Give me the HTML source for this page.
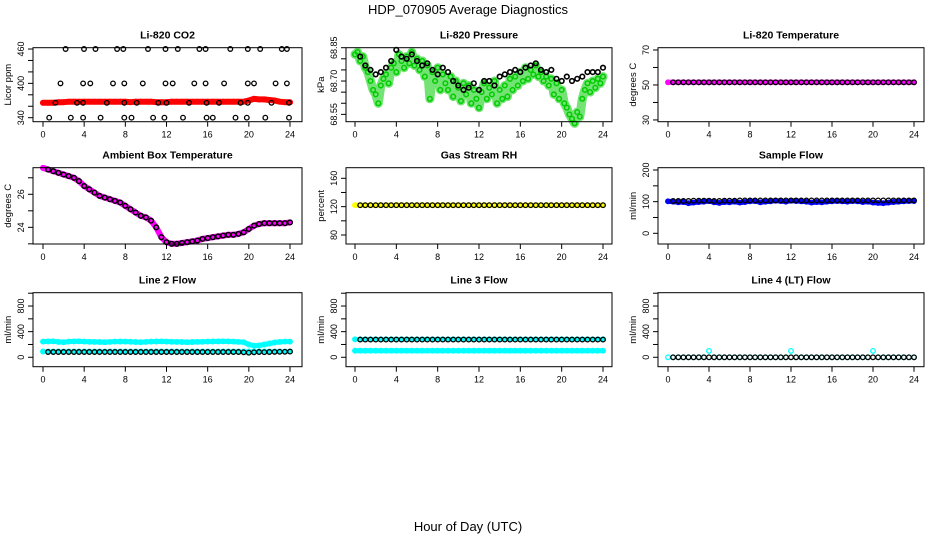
<!DOCTYPE html>
<html><head><meta charset="utf-8"><style>
html,body{margin:0;padding:0;background:#fff;}
svg{display:block;font-family:"Liberation Sans",Arial,sans-serif;}
</style></head><body>
<svg id="c" width="936" height="540" viewBox="0 0 936 540">
<text x="468" y="14" text-anchor="middle" font-size="13">HDP_070905  Average Diagnostics</text>
<text x="468" y="531" text-anchor="middle" font-size="13">Hour of Day (UTC)</text>
</svg>
<script>
// ---- data ----
const xTickLabels = [0,4,8,12,16,20,24];
const co2BlackHours = [2.2,3.98,5.1,7.2,7.8,10.2,11.9,13.1,15.2,15.8,18.2,19.9,21.1,23.2,23.7,
 1.7,3.9,4.6,6.8,7.9,9.7,11.9,12.6,14.7,15.8,17.6,19.9,20.5,22.6,23.7,
 0.6,2.7,3.9,5.6,7.9,8.6,10.7,11.8,13.6,15.9,16.5,18.7,19.8,21.6,23.9,
 1.2,3.3,3.9,6.2,7.9,9.1,11.2,12,14.2,15.9,17.1,19.2,19.9,22.2,23.9];
const co2BlackVals = [460,460,460,460,460,460,460,460,460,460,460,460,460,460,460,
 400,400,400,400,400,400,400,400,400,400,400,400,400,400,400,
 340,340,340,340,340,340,340,340,340,340,340,340,340,340,340,
 366,366,366,366,366,366,366,366,366,366,366,366,366,366,366];
const co2Red = [366,366,366,367,367,368,368,368,368,368,368,368,368,368,368,368,368,367,368,368,368,368,367,367,367,368,368,368,368,368,368,368,368,368,368,368,368,368,368,368,370,373,372,372,371,370,368,367,367];
const pressureGreen = [68.82,68.83,68.79,68.81,68.76,68.74,68.70,68.66,68.64,68.60,68.68,68.71,68.73,68.69,68.76,68.78,68.74,68.82,68.79,68.76,68.81,68.78,68.83,68.77,68.80,68.75,68.79,68.72,68.77,68.62,68.74,68.70,68.76,68.66,68.73,68.69,68.66,68.72,68.63,68.70,68.67,68.61,68.69,68.64,68.68,68.60,68.66,68.62,68.58,68.65,68.69,68.62,68.67,68.64,68.70,68.60,68.66,68.62,68.68,68.63,68.71,68.66,68.72,68.68,68.74,68.70,68.76,68.71,68.75,68.73,68.77,68.72,68.74,68.70,68.72,68.68,68.71,68.64,68.69,68.62,68.66,68.60,68.58,68.55,68.53,68.51,68.56,68.54,68.62,68.66,68.69,68.65,68.70,68.67,68.71,68.69,68.72];
const pressureBlack = [68.81,68.77,68.75,68.73,68.74,68.76,68.79,68.84,68.81,68.80,68.82,68.79,68.77,68.78,68.75,68.73,68.76,68.74,68.70,68.68,68.66,68.67,68.69,68.66,68.70,68.70,68.68,68.72,68.73,68.74,68.75,68.74,68.76,68.77,68.78,68.75,68.74,68.75,68.71,68.70,68.72,68.70,68.71,68.72,68.74,68.74,68.74,68.76];
const tempMagenta = [51.5,51.5,51.5,51.5,51.5,51.5,51.5,51.5,51.5,51.5,51.5,51.5,51.5,51.5,51.5,51.5,51.5,51.5,51.5,51.5,51.5,51.5,51.5,51.5,51.5,51.5,51.5,51.5,51.5,51.5,51.5,51.5,51.5,51.5,51.5,51.5,51.5,51.5,51.5,51.5,51.5,51.5,51.5,51.5,51.5,51.5,51.5,51.5,51.5];
const tempBlack = [51.5,51.5,51.5,51.5,51.5,51.5,51.5,51.5,51.5,51.5,51.5,51.5,51.5,51.5,51.5,51.5,51.5,51.5,51.5,51.5,51.5,51.5,51.5,51.5,51.5,51.5,51.5,51.5,51.5,51.5,51.5,51.5,51.5,51.5,51.5,51.5,51.5,51.5,51.5,51.5,51.5,51.5,51.5,51.5,51.5,51.5,51.5,51.5];
const ambientMagenta = [27.6,27.5,27.4,27.3,27.2,27.1,27.0,26.8,26.5,26.3,26.1,25.9,25.8,25.7,25.6,25.5,25.3,25.1,24.9,24.7,24.6,24.4,24.0,23.4,23.1,23.0,23.0,23.05,23.1,23.15,23.2,23.3,23.35,23.4,23.45,23.5,23.55,23.55,23.6,23.7,23.9,24.1,24.2,24.25,24.25,24.25,24.25,24.25,24.3];
const ambientBlack = [27.5,27.4,27.3,27.2,27.1,27.0,26.8,26.5,26.3,26.1,25.9,25.8,25.7,25.6,25.5,25.3,25.1,24.9,24.7,24.6,24.4,24.0,23.4,23.1,23.0,23.0,23.05,23.1,23.15,23.2,23.3,23.35,23.4,23.45,23.5,23.55,23.55,23.6,23.7,23.9,24.1,24.2,24.25,24.25,24.25,24.25,24.25,24.3];
const rhYellow = [122,122,122,122,122,122,122,122,122,122,122,122,122,122,122,122,122,122,122,122,122,122,122,122,122,122,122,122,122,122,122,122,122,122,122,122,122,122,122,122,122,122,122,122,122,122,122,122,122];
const rhBlack = [122,122,122,122,122,122,122,122,122,122,122,122,122,122,122,122,122,122,122,122,122,122,122,122,122,122,122,122,122,122,122,122,122,122,122,122,122,122,122,122,122,122,122,122,122,122,122,122];
const sampleBlue = [101,100,98,99,95,97,99,100,102,98,96,99,98,100,97,99,101,102,98,100,101,103,102,100,103,102,101,100,97,99,98,100,101,102,101,100,102,101,99,100,97,96,95,97,99,100,101,102,102];
const sampleBlack = [102,102,102,102,103,103,103,103,102,102,103,103,103,104,104,104,104,104,104,104,104,104,104,104,104,104,104,104,104,104,104,104,104,104,104,104,104,104,104,104,104,104,104,104,104,104,104,104];
const line2CyanHi = [245,248,250,240,235,245,248,250,245,242,240,238,236,240,244,246,245,242,238,235,240,244,246,248,245,242,240,238,236,238,240,242,245,246,248,250,248,245,240,236,200,180,185,200,215,230,240,245,245];
const line2CyanLo = [90,90,90,90,90,90,90,90,90,90,90,90,90,90,90,90,90,90,90,90,90,90,90,90,90,90,90,90,90,90,90,90,90,90,90,90,90,90,90,90,90,90,90,90,90,90,90,90,90];
const line2Black = [82,82,82,82,82,82,82,82,82,82,82,82,82,82,82,82,82,82,82,82,82,82,82,82,82,82,82,82,82,82,82,82,82,82,82,82,82,82,78,72,78,82,80,82,84,86,86,88];
const line3CyanHi = [280,280,280,280,280,280,280,280,280,280,280,280,280,280,280,280,280,280,280,280,280,280,280,280,280,280,280,280,280,280,280,280,280,280,280,280,280,280,280,280,280,280,280,280,280,280,280,280,280];
const line3CyanLo = [103,103,103,103,103,103,103,103,103,103,103,103,103,103,103,103,103,103,103,103,103,103,103,103,103,103,103,103,103,103,103,103,103,103,103,103,103,103,103,103,103,103,103,103,103,103,103,103,103];
const line3Black = [276,276,276,276,276,276,276,276,276,276,276,276,276,276,276,276,276,276,276,276,276,276,276,276,276,276,276,276,276,276,276,276,276,276,276,276,276,276,276,276,276,276,276,276,276,276,276,276];
const line4Cyan = [0,0,0,0,0,0,0,0,100,0,0,0,0,0,0,0,0,0,0,0,0,0,0,0,100,0,0,0,0,0,0,0,0,0,0,0,0,0,0,0,100,0,0,0,0,0,0,0,0];
const line4Black = [0,0,0,0,0,0,0,0,0,0,0,0,0,0,0,0,0,0,0,0,0,0,0,0,0,0,0,0,0,0,0,0,0,0,0,0,0,0,0,0,0,0,0,0,0,0,0,0];

const svg = document.getElementById('c');
const NS = 'http://www.w3.org/2000/svg';
function mk(tag, attrs, parent){ const e=document.createElementNS(NS,tag); for(const k in attrs) e.setAttribute(k,attrs[k]); (parent||svg).appendChild(e); return e; }

const cols = [{bx0:33,bx1:302,h0:43,h24:290},{bx0:346,bx1:612,h0:355,h24:603},{bx0:658,bx1:924,h0:668,h24:914}];
const rows = [{by0:47.7,by1:121.7},{by0:167.7,by1:244},{by0:292.7,by1:366.7}];

function panel(name, title, ylab, col, row, ytop, ybot, yticks, ylabels, series){
  const C=cols[col], R=rows[row];
  const g = mk('g',{});
  
  
  const xs = h => C.h0 + h/24*(C.h24-C.h0);
  const ys = v => R.by0 + (ytop - v)/(ytop - ybot)*(R.by1-R.by0);
  const t = mk('text',{x:(C.bx0+C.bx1)/2,y:R.by0-9,'text-anchor':'middle','font-size':10.5,'font-weight':'bold'},g);
  t.textContent = title;
  
  
  series.forEach(s=>{
    const sg = mk('g',{},g);
    
    
    const hrs = s.hours || s.vals.map((v,i)=> s.start + i*s.step);
    if(s.band){
      const pts = s.vals.map((v,i)=> xs(hrs[i]).toFixed(1)+','+ys(v).toFixed(1)).join(' ');
      const pl = mk('polyline',{points:pts,fill:'none',stroke:s.color,'stroke-width':s.band,'stroke-linejoin':'round','stroke-linecap':'round','stroke-opacity':s.bandOpacity||1},sg);
      
      
    }
    s.vals.forEach((v,i)=>{
      const c = mk('circle',{cx:xs(hrs[i]).toFixed(1),cy:ys(v).toFixed(1),r:2.3,fill:'none',stroke:s.color,'stroke-width':s.sw||1.3},sg);
      
      
    });
  });
  const box = mk('rect',{x:C.bx0,y:R.by0,width:C.bx1-C.bx0,height:R.by1-R.by0,fill:'none',stroke:'#000','stroke-width':1},g);
  
  
  xTickLabels.forEach(h=>{
    const x=xs(h);
    mk('line',{x1:x,x2:x,y1:R.by1,y2:R.by1+5,stroke:'#000'},g);
    const tl=mk('text',{x:x,y:R.by1+16,'text-anchor':'middle','font-size':9},g);
    tl.textContent=h;
    
    
  });
  yticks.forEach(v=>{
    const y=ys(v);
    mk('line',{x1:C.bx0-5,x2:C.bx0,y1:y,y2:y,stroke:'#000'},g);
  });
  ylabels.forEach(v=>{
    const y=ys(v), x=C.bx0-9;
    const tl=mk('text',{x:x,y:y,'text-anchor':'middle','font-size':9,transform:`rotate(-90 ${x} ${y})`},g);
    tl.textContent=v;
    
    
  });
  const yx=C.bx0-22, ym=(R.by0+R.by1)/2;
  const yl=mk('text',{x:yx,y:ym,'text-anchor':'middle','font-size':9.5,transform:`rotate(-90 ${yx} ${ym})`},g);
  yl.textContent=ylab;
  
  
}

panel('co2-panel','Li-820 CO2','Licor ppm',0,0,462.3,333.0,[340,360,380,400,420,440,460],[340,400,460],[
 {id:'red',color:'#ff0000',vals:co2Red,start:0,step:0.5,band:6},
 {id:'black',color:'#000',vals:co2BlackVals,hours:co2BlackHours}]);
panel('pressure-panel','Li-820 Pressure','kPa',1,0,68.85,68.517,[68.55,68.60,68.65,68.70,68.75,68.80,68.85],['68.55','68.70','68.85'],[
 {id:'green',color:'#00cc00',vals:pressureGreen,start:0,step:0.25,sw:1.5,band:9,bandOpacity:0.55},
 {id:'black',color:'#000',vals:pressureBlack,start:0.5,step:0.5,sw:1.6}]);
panel('temperature-panel','Li-820 Temperature','degrees C',2,0,71.3,29.0,[30,40,50,60,70],[30,50,70],[
 {id:'magenta',color:'#ff00ff',vals:tempMagenta,start:0,step:0.5,band:5},
 {id:'black',color:'#000',vals:tempBlack,start:0.5,step:0.5}]);
panel('ambient-panel','Ambient Box Temperature','degrees C',0,1,27.61,22.99,[23,24,25,26,27],[24,26],[
 {id:'magenta',color:'#ff00ff',vals:ambientMagenta,start:0,step:0.5,band:6},
 {id:'black',color:'#000',vals:ambientBlack,start:0.5,step:0.5,sw:1.5}]);
panel('rh-panel','Gas Stream RH','percent',1,1,174.95,67.3,[80,100,120,140,160],[80,120,160],[
 {id:'yellow',color:'#ffff00',vals:rhYellow,start:0,step:0.5,band:5},
 {id:'black',color:'#000',vals:rhBlack,start:0.5,step:0.5}]);
panel('sample-flow-panel','Sample Flow','ml/min',2,1,207.3,-33.8,[0,50,100,150,200],[0,100,200],[
 {id:'blue',color:'#0000ff',vals:sampleBlue,start:0,step:0.5,band:5},
 {id:'black',color:'#000',vals:sampleBlack,start:0.5,step:0.5}]);
panel('line2-panel','Line 2 Flow','ml/min',0,2,1008,-147,[0,200,400,600,800,1000],[0,400,800],[
 {id:'cyan-hi',color:'#00ffff',vals:line2CyanHi,start:0,step:0.5,band:5},
 {id:'cyan-lo',color:'#00ffff',vals:line2CyanLo,start:0,step:0.5,band:4},
 {id:'black',color:'#000',vals:line2Black,start:0.5,step:0.5}]);
panel('line3-panel','Line 3 Flow','ml/min',1,2,1008,-147,[0,200,400,600,800,1000],[0,400,800],[
 {id:'cyan-hi',color:'#00ffff',vals:line3CyanHi,start:0,step:0.5,band:4},
 {id:'cyan-lo',color:'#00ffff',vals:line3CyanLo,start:0,step:0.5,band:5},
 {id:'black',color:'#000',vals:line3Black,start:0.5,step:0.5}]);
panel('line4-panel','Line 4 (LT) Flow','ml/min',2,2,1008,-147,[0,200,400,600,800,1000],[0,400,800],[
 {id:'cyan',color:'#00ffff',vals:line4Cyan,start:0,step:0.5},
 {id:'black',color:'#000',vals:line4Black,start:0.5,step:0.5}]);
</script>
</body></html>
